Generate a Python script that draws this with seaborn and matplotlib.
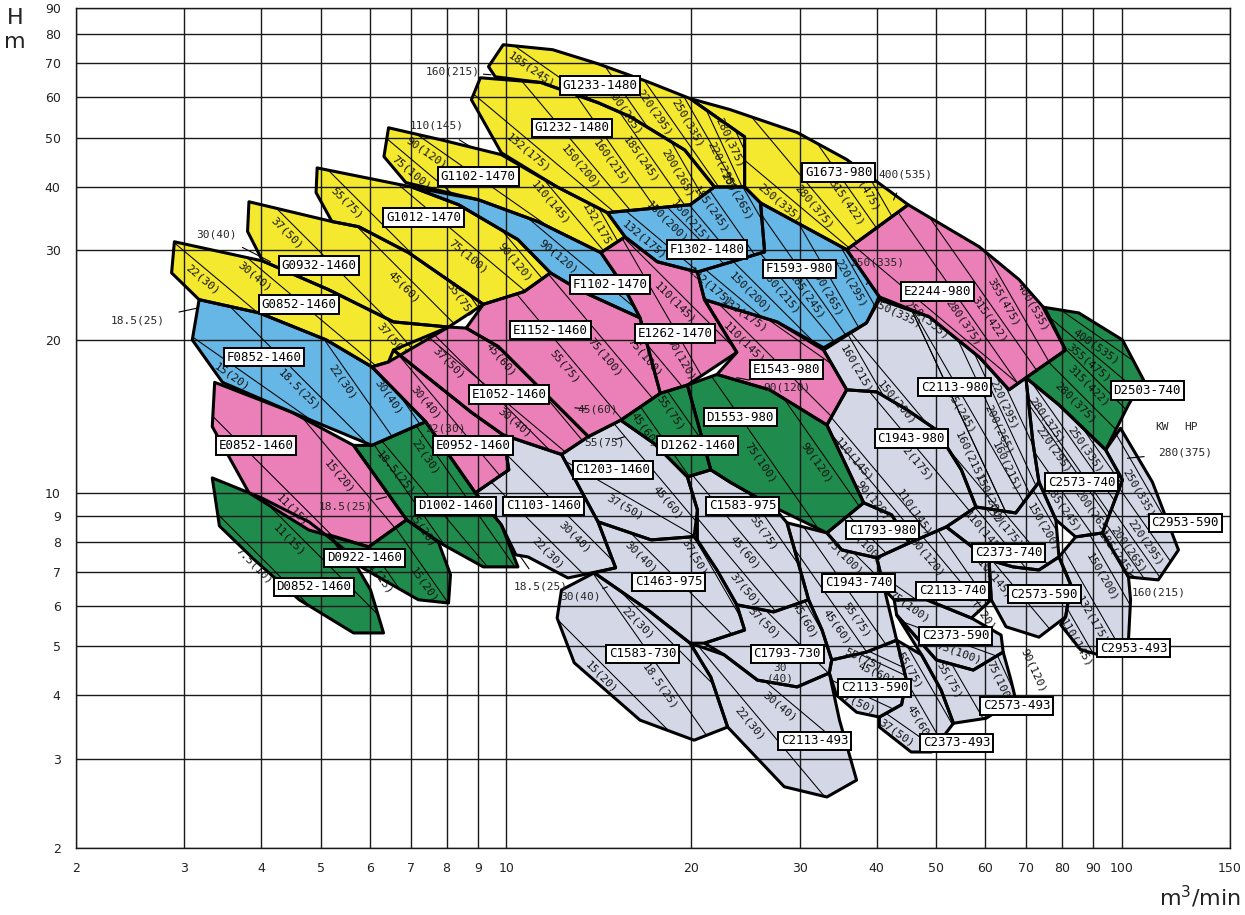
import matplotlib
matplotlib.use("Agg")
import numpy as np
import matplotlib.pyplot as plt
from matplotlib.patches import Polygon
import seaborn as sns

# ------------------------------------------------------------
# axis values
# ------------------------------------------------------------
Q_TICKS = [2, 3, 4, 5, 6, 7, 8, 9, 10, 20, 30, 40, 50, 60, 70, 80, 90, 100, 150]
H_TICKS = [2, 3, 4, 5, 6, 7, 8, 9, 10, 20, 30, 40, 50, 60, 70, 80, 90]

# ------------------------------------------------------------
# pump operating ranges, outline points as (Q m3/min, H m)
# ------------------------------------------------------------
# G series (yellow)
G0852_1460 = [(2.89, 31.2), (4.02, 28.6), (5.15, 25.1), (6.56, 21.7), (8.06, 21.2), (6.44, 18.1),
              (6.05, 17.7), (5.10, 20.0), (3.97, 22.6), (3.17, 24.0), (2.86, 27.1)]
G0932_1460 = [(3.82, 37.4), (5.21, 34.2), (5.76, 33.4), (6.94, 29.7), (9.18, 23.5), (8.06, 21.2),
              (6.56, 21.7), (5.15, 25.1), (4.02, 28.6), (3.80, 32.7)]
G1012_1470 = [(4.93, 43.6), (7.02, 40.0), (8.37, 36.9), (10.45, 31.5), (11.8, 27.1), (10.7, 24.9),
              (9.18, 23.5), (6.94, 29.7), (5.76, 33.4), (5.21, 34.2), (4.91, 39.0)]
G1102_1470 = [(6.44, 52.3), (7.85, 49.5), (9.82, 46.3), (12.1, 40.0), (14.6, 35.6), (15.6, 31.9),
              (14.25, 29.7), (11.25, 34.2), (9.01, 37.75), (6.87, 40.8), (6.33, 45.9)]
G1232_1480 = [(9.08, 65.6), (11.4, 64.2), (14.1, 58.6), (15.9, 55.0), (19.5, 47.3), (21.8, 40.0),
              (19.9, 36.9), (14.6, 35.6), (12.1, 40.0), (9.82, 46.7), (8.78, 59.4)]
G1233_1480 = [(9.89, 76.2), (11.9, 74.5), (14.1, 69.9), (17.0, 64.4), (19.9, 59.7), (24.4, 50.2),
              (24.4, 40.0), (21.8, 40.0), (19.5, 47.3), (15.9, 55.0), (14.1, 58.6), (11.4, 64.2),
              (9.60, 65.9), (9.36, 69.0)]
G1673_980 = [(19.9, 59.7), (23.1, 56.8), (29.7, 51.2), (35.75, 45.3), (45.0, 36.9), (35.75, 30.1),
             (25.9, 37.2), (24.4, 40.0), (24.4, 50.2)]

# F series (blue)
F0852_1460 = [(3.17, 24.0), (3.97, 22.6), (5.10, 20.0), (6.05, 17.7), (7.40, 13.8), (6.05, 12.4),
              (4.49, 14.4), (3.46, 16.5), (3.09, 20.0)]
F1102_1470 = [(7.02, 40.0), (9.01, 37.75), (11.25, 34.2), (14.25, 29.7), (15.46, 25.7), (16.5, 22.1),
              (13.2, 25.0), (11.8, 27.1), (10.45, 31.5), (8.37, 36.9)]
F1302_1480 = [(14.6, 35.6), (19.9, 36.9), (21.8, 40.0), (24.4, 40.0), (25.9, 37.2), (26.3, 29.8),
              (20.45, 27.2), (17.6, 28.5), (15.6, 31.9)]
F1593_980 = [(25.9, 37.2), (35.75, 30.1), (40.4, 24.3), (38.5, 21.6), (32.8, 19.3), (27.55, 21.7),
             (21.0, 24.0), (20.45, 27.2), (26.3, 29.8)]

# E series (pink)
E0852_1460 = [(3.36, 16.5), (4.49, 14.4), (5.65, 12.4), (6.89, 8.85), (5.98, 7.83), (4.78, 8.45),
              (3.82, 10.0), (3.33, 13.5)]
E0952_1460 = [(6.05, 17.7), (6.44, 18.1), (6.56, 19.1), (8.78, 14.4), (9.89, 13.0), (10.1, 11.1),
              (8.91, 10.0), (7.40, 13.8)]
E1052_1460 = [(6.56, 19.1), (8.06, 21.2), (8.61, 21.1), (9.71, 19.4), (13.6, 12.9), (12.3, 11.9),
              (9.89, 13.0), (8.78, 14.4)]
E1152_1460 = [(9.18, 23.5), (10.7, 24.9), (11.8, 27.1), (13.2, 25.0), (16.5, 22.1), (17.8, 15.7),
              (15.35, 13.9), (13.6, 12.9), (9.71, 19.4), (8.61, 21.1)]
E1262_1470 = [(14.25, 29.7), (15.6, 31.9), (17.6, 28.5), (20.45, 27.2), (21.0, 24.0), (23.7, 18.9),
              (19.7, 16.3), (17.8, 15.7), (16.5, 22.1), (15.46, 25.7)]
E1543_980 = [(21.0, 24.0), (27.55, 21.7), (32.8, 19.1), (35.75, 15.95), (33.2, 13.6), (26.8, 15.95),
             (22.0, 17.1), (23.7, 18.9)]
E2244_980 = [(35.75, 30.1), (45.0, 36.9), (58.7, 30.5), (68.1, 26.3), (75.3, 22.9), (81.1, 19.1),
             (65.6, 15.95), (58.7, 18.5), (48.7, 22.2), (40.4, 24.3)]

# D series (green)
D0852_1460 = [(3.33, 10.7), (4.0, 9.78), (4.78, 8.77), (5.55, 7.62), (6.02, 6.44), (6.32, 5.30),
              (5.65, 5.30), (4.61, 6.16), (3.90, 7.38), (3.42, 8.61)]
D0922_1460 = [(5.15, 8.27), (5.98, 7.83), (6.89, 8.85), (7.76, 8.0), (8.12, 6.9), (8.06, 6.07),
              (7.20, 6.16), (6.32, 6.74), (5.55, 7.38)]
D1002_1460 = [(5.65, 12.4), (6.05, 12.4), (7.40, 13.8), (8.91, 10.0), (9.82, 8.65), (10.45, 7.15),
              (9.18, 7.15), (7.91, 7.9), (6.89, 8.85)]
D1262_1460 = [(15.35, 13.9), (17.8, 15.7), (19.7, 16.3), (21.5, 11.1), (19.7, 10.75), (17.4, 12.5)]
D1553_980 = [(19.7, 16.3), (22.0, 17.1), (26.8, 15.95), (33.2, 13.6), (38.1, 9.56), (33.2, 8.34),
             (27.2, 9.38), (23.1, 10.5), (21.5, 11.1)]
D2503_740 = [(74.5, 23.2), (85.2, 22.6), (100.3, 20.0), (108.5, 16.7), (102.6, 14.9), (94.2, 12.15),
             (79.1, 14.9), (69.9, 16.85), (81.1, 19.1)]

# C series (grey)
C1103_1460 = [(9.89, 13.0), (12.3, 11.9), (14.1, 8.77), (15.06, 7.12), (12.6, 6.80), (10.85, 7.48),
              (10.37, 7.55), (9.82, 8.65), (8.91, 10.0), (10.1, 11.1)]
C1203_1460 = [(12.3, 11.9), (13.6, 12.9), (15.35, 13.9), (17.4, 12.5), (19.7, 10.75), (20.45, 9.26),
              (20.2, 8.2), (17.2, 8.08), (14.1, 8.77)]
C1463_975 = [(14.1, 8.77), (17.2, 8.08), (20.2, 8.2), (22.0, 7.05), (23.7, 6.02), (24.4, 5.37),
             (21.0, 5.06), (19.9, 5.06), (17.0, 5.88), (13.9, 6.96), (15.06, 7.12)]
C1583_975 = [(19.7, 10.75), (21.5, 11.1), (23.1, 10.5), (27.2, 9.38), (28.6, 8.73), (31.0, 6.16),
             (27.2, 5.83), (23.7, 6.02), (22.0, 7.05), (20.45, 8.08), (20.45, 9.26)]
C1583_730 = [(12.3, 6.44), (13.9, 6.96), (17.0, 5.88), (19.9, 5.06), (21.5, 4.34), (22.9, 3.46),
             (20.2, 3.26), (16.5, 3.57), (12.9, 4.63), (12.1, 5.67)]
C1793_730 = [(21.0, 5.06), (24.4, 5.37), (23.7, 6.02), (27.2, 5.83), (31.0, 6.16), (32.6, 5.37),
             (33.8, 4.69), (33.5, 4.42), (29.7, 4.15), (25.6, 4.28), (22.6, 4.80)]
C2113_493 = [(19.9, 5.06), (22.6, 4.80), (25.6, 4.28), (29.7, 4.15), (33.5, 4.42), (34.8, 3.57),
             (37.1, 2.72), (33.2, 2.52), (28.3, 2.64), (22.9, 3.46), (21.5, 4.34)]
C1793_980 = [(33.2, 8.34), (38.1, 9.56), (42.3, 9.05), (45.2, 7.97), (40.0, 7.45), (35.1, 7.72)]
C1943_740 = [(28.6, 8.73), (33.2, 8.34), (35.1, 7.72), (40.0, 7.45), (41.2, 6.44), (43.1, 5.13),
             (38.5, 4.86), (33.8, 4.69), (32.6, 5.37), (31.0, 6.16)]
C2113_590 = [(33.8, 4.69), (38.5, 4.86), (43.1, 5.13), (44.7, 4.28), (43.9, 3.83), (40.4, 3.62),
             (37.1, 3.70), (34.4, 4.0), (33.5, 4.42)]
C2373_493 = [(43.1, 5.13), (47.3, 4.80), (50.9, 4.09), (53.3, 3.52), (49.1, 3.09), (45.5, 3.09),
             (40.4, 3.46), (40.4, 3.62), (43.9, 3.83), (44.7, 4.28)]
C2573_493 = [(43.1, 5.75), (50.0, 4.69), (57.4, 4.48), (64.2, 4.86), (66.1, 4.28), (67.3, 3.91),
             (60.2, 3.60), (53.3, 3.52), (50.9, 4.09), (47.3, 4.80)]
C2373_590 = [(42.7, 6.16), (48.2, 6.16), (57.0, 5.67), (63.7, 5.25), (64.2, 4.86), (57.4, 4.48),
             (50.0, 4.69), (43.1, 5.75)]
C2113_740 = [(40.0, 7.45), (45.2, 7.97), (51.9, 8.57), (60.9, 7.38), (61.4, 6.16), (57.0, 5.67),
             (48.2, 6.16), (42.7, 6.16), (41.2, 6.44)]
C1943_980 = [(35.75, 15.95), (40.0, 15.8), (44.7, 14.6), (50.0, 13.3), (54.9, 11.1), (58.0, 9.38),
             (51.9, 8.57), (45.2, 7.97), (42.3, 9.05), (38.1, 9.56), (33.2, 13.6)]
C2113_980 = [(32.8, 19.1), (38.5, 21.6), (40.4, 24.0), (48.7, 22.2), (58.7, 18.5), (65.6, 15.95),
             (69.9, 16.85), (71.8, 12.5), (73.4, 10.5), (67.3, 9.13), (58.0, 9.38), (54.9, 11.1),
             (50.0, 13.3), (44.7, 14.6), (40.0, 15.8), (35.75, 15.95)]
C2373_740 = [(51.9, 8.57), (58.0, 9.38), (67.3, 9.13), (73.4, 10.5), (78.2, 8.85), (79.1, 7.48),
             (73.4, 7.05), (66.6, 7.15), (60.9, 7.38)]
C2573_740 = [(69.9, 16.85), (79.1, 14.9), (94.2, 12.15), (100.3, 10.6), (93.1, 8.34), (84.2, 8.19),
             (78.2, 8.85), (73.4, 10.5), (71.8, 12.5)]
C2573_590 = [(60.9, 7.38), (66.6, 7.15), (73.4, 7.05), (79.1, 7.48), (82.7, 6.59), (81.1, 5.70),
             (73.4, 5.20), (64.9, 5.45), (61.4, 6.16)]
C2953_590 = [(94.2, 12.15), (99.6, 13.4), (112.2, 10.5), (123.7, 7.72), (114.7, 6.74), (102.6, 6.83),
             (93.1, 8.34), (100.3, 10.6)]
C2953_493 = [(79.1, 7.48), (84.2, 8.19), (93.1, 8.34), (102.6, 6.83), (103.4, 6.16), (102.6, 5.13),
             (94.2, 4.76), (85.8, 4.91), (79.6, 5.50), (81.1, 5.70), (82.7, 6.59)]

# table of models built from the arrays above
OUTLINES = {
    "C1103-1460": C1103_1460, "C1203-1460": C1203_1460, "C1463-975": C1463_975,
    "C1583-975": C1583_975, "C1583-730": C1583_730, "C1793-730": C1793_730,
    "C2113-493": C2113_493, "C1793-980": C1793_980, "C1943-740": C1943_740,
    "C2113-590": C2113_590, "C2373-493": C2373_493, "C2573-493": C2573_493,
    "C2373-590": C2373_590, "C2113-740": C2113_740, "C1943-980": C1943_980,
    "C2113-980": C2113_980, "C2373-740": C2373_740, "C2573-740": C2573_740,
    "C2573-590": C2573_590, "C2953-590": C2953_590, "C2953-493": C2953_493,
    "D0852-1460": D0852_1460, "D0922-1460": D0922_1460, "D1002-1460": D1002_1460,
    "D1262-1460": D1262_1460, "D1553-980": D1553_980, "D2503-740": D2503_740,
    "E0852-1460": E0852_1460, "E0952-1460": E0952_1460, "E1052-1460": E1052_1460,
    "E1152-1460": E1152_1460, "E1262-1470": E1262_1470, "E1543-980": E1543_980,
    "E2244-980": E2244_980,
    "F0852-1460": F0852_1460, "F1102-1470": F1102_1470, "F1302-1480": F1302_1480,
    "F1593-980": F1593_980,
    "G0852-1460": G0852_1460, "G0932-1460": G0932_1460, "G1012-1470": G1012_1470,
    "G1102-1470": G1102_1470, "G1232-1480": G1232_1480, "G1233-1480": G1233_1480,
    "G1673-980": G1673_980,
}

# where each model name box sits (Q, H)
LABEL_POS = {
    "G1233-1480": (14.2, 63.3), "G1232-1480": (12.8, 52.3), "G1102-1470": (9.01, 41.9),
    "G1012-1470": (7.34, 34.8), "G0932-1460": (4.96, 28.0), "G0852-1460": (4.61, 23.5),
    "G1673-980": (34.7, 42.7),
    "F0852-1460": (4.04, 18.5), "F1102-1470": (14.75, 25.7), "F1302-1480": (21.2, 30.1),
    "F1593-980": (30.0, 27.6),
    "E0852-1460": (3.92, 12.4), "E0952-1460": (8.84, 12.4), "E1052-1460": (10.1, 15.6),
    "E1152-1460": (11.8, 20.9), "E1262-1470": (18.8, 20.6), "E1543-980": (28.5, 17.5),
    "E2244-980": (50.3, 24.9),
    "D0852-1460": (4.87, 6.53), "D0922-1460": (5.89, 7.45), "D1002-1460": (8.27, 9.43),
    "D1262-1460": (20.45, 12.4), "D1553-980": (24.0, 14.1), "D2503-740": (110.0, 15.9),
    "C1103-1460": (11.5, 9.43), "C1203-1460": (14.9, 11.1), "C1463-975": (18.35, 6.68),
    "C1583-975": (24.2, 9.43), "C1583-730": (16.65, 4.82), "C1793-980": (40.9, 8.45),
    "C1793-730": (28.6, 4.82), "C1943-980": (45.5, 12.8), "C1943-740": (37.4, 6.65),
    "C2113-980": (53.5, 16.15), "C2113-740": (53.1, 6.41), "C2113-590": (39.7, 4.13),
    "C2113-493": (31.7, 3.25), "C2373-740": (65.6, 7.62), "C2373-590": (53.7, 5.23),
    "C2373-493": (53.9, 3.22), "C2573-740": (86.2, 10.5), "C2573-590": (74.8, 6.32),
    "C2573-493": (67.6, 3.81), "C2953-590": (126.8, 8.73), "C2953-493": (104.5, 4.95),
}

# motor power lines kW(HP): model, power, label at (Q, H), label angle
G_POWER = [
    ("G0852-1460", "22(30)", 3.21, 26.3, -40), ("G0852-1460", "30(40)", 3.90, 26.6, -40),
    ("G0852-1460", "37(50)", 6.51, 20.0, -50),
    ("G0932-1460", "37(50)", 4.40, 32.5, -45), ("G0932-1460", "45(60)", 6.81, 25.4, -45),
    ("G0932-1460", "55(75)", 8.43, 24.0, -55),
    ("G1012-1470", "55(75)", 5.51, 37.2, -45), ("G1012-1470", "75(100)", 8.68, 29.2, -40),
    ("G1012-1470", "90(120)", 10.34, 28.5, -50),
    ("G1102-1470", "75(100)", 7.02, 42.7, -40), ("G1102-1470", "90(120)", 7.40, 46.7, -35),
    ("G1102-1470", "110(145)", 11.8, 37.2, -50), ("G1102-1470", "132(175)", 14.09, 33.4, -60),
    ("G1232-1480", "132(175)", 10.85, 46.7, -40), ("G1232-1480", "150(200)", 13.22, 43.8, -50),
    ("G1232-1480", "160(215)", 14.8, 44.7, -55), ("G1232-1480", "185(245)", 16.53, 45.3, -55),
    ("G1232-1480", "200(265)", 18.98, 42.66, -60),
    ("G1233-1480", "185(245)", 10.98, 68.0, -35), ("G1233-1480", "200(265)", 15.58, 56.2, -55),
    ("G1233-1480", "220(295)", 17.42, 56.0, -55), ("G1233-1480", "250(335)", 19.7, 53.5, -60),
    ("G1233-1480", "280(375)", 23.1, 48.9, -65), ("G1233-1480", "220(295)", 22.4, 43.8, -65),
    ("G1673-980", "250(335)", 27.86, 37.2, -40), ("G1673-980", "280(375)", 31.6, 36.6, -50),
    ("G1673-980", "315(422)", 35.75, 37.2, -55), ("G1673-980", "355(475)", 38.1, 39.9, -60),
]
F_POWER = [
    ("F0852-1460", "15(20)", 3.59, 16.9, -35), ("F0852-1460", "18.5(25)", 4.61, 15.95, -45),
    ("F0852-1460", "22(30)", 5.41, 16.5, -55), ("F0852-1460", "30(40)", 6.44, 15.45, -55),
    ("F1102-1470", "90(120)", 12.14, 29.2, -40),
    ("F1302-1480", "132(175)", 16.78, 31.5, -40), ("F1302-1480", "150(200)", 18.28, 34.2, -45),
    ("F1302-1480", "160(215)", 19.9, 34.2, -50), ("F1302-1480", "185(245)", 21.5, 36.1, -55),
    ("F1302-1480", "200(265)", 23.7, 38.3, -60),
    ("F1593-980", "132(175)", 21.5, 25.4, -40), ("F1593-980", "150(200)", 24.9, 24.8, -45),
    ("F1593-980", "160(215)", 27.86, 24.8, -50), ("F1593-980", "185(245)", 30.8, 24.3, -55),
    ("F1593-980", "200(265)", 33.2, 24.8, -60), ("F1593-980", "220(295)", 36.2, 25.9, -60),
]
E_POWER = [
    ("E0852-1460", "11(15)", 4.49, 9.26, -45), ("E0852-1460", "15(20)", 5.35, 10.75, -50),
    ("E0952-1460", "30(40)", 7.40, 15.04, -50),
    ("E1052-1460", "37(50)", 8.06, 18.0, -45), ("E1052-1460", "45(60)", 9.82, 18.3, -50),
    ("E1052-1460", "30(40)", 10.34, 13.73, -40),
    ("E1152-1460", "55(75)", 12.45, 17.7, -50), ("E1152-1460", "75(100)", 14.47, 18.5, -50),
    ("E1262-1470", "110(145)", 18.77, 23.7, -45), ("E1262-1470", "75(100)", 16.78, 18.5, -50),
    ("E1262-1470", "90(120)", 19.2, 18.3, -60),
    ("E1543-980", "132(175)", 24.35, 22.4, -35), ("E1543-980", "110(145)", 24.35, 19.7, -45),
    ("E2244-980", "250(335)", 48.2, 21.9, -40), ("E2244-980", "280(375)", 55.3, 21.6, -55),
    ("E2244-980", "315(422)", 60.9, 21.9, -55), ("E2244-980", "355(475)", 64.2, 23.7, -60),
    ("E2244-980", "400(535)", 71.8, 23.2, -60),
]
D_POWER = [
    ("D0852-1460", "7.5(10)", 3.90, 7.21, -45), ("D0852-1460", "11(15)", 4.44, 8.08, -45),
    ("D0922-1460", "11(15)", 6.21, 6.83, -55), ("D0922-1460", "15(20)", 7.34, 6.58, -55),
    ("D1002-1460", "15(20)", 7.29, 8.45, -55), ("D1002-1460", "18.5(25)", 6.61, 10.95, -50),
    ("D1002-1460", "22(30)", 7.40, 11.77, -55),
    ("D1262-1460", "45(60)", 16.78, 13.3, -55), ("D1262-1460", "55(75)", 18.49, 14.36, -55),
    ("D1553-980", "75(100)", 25.85, 11.45, -55), ("D1553-980", "90(120)", 31.96, 11.45, -55),
    ("D2503-740", "400(535)", 90.74, 19.4, -35), ("D2503-740", "355(475)", 88.4, 18.0, -40),
    ("D2503-740", "315(422)", 88.4, 16.2, -45), ("D2503-740", "280(375)", 84.2, 15.0, -45),
]
C_POWER = [
    ("C1103-1460", "22(30)", 11.69, 7.62, -45), ("C1103-1460", "30(40)", 12.93, 8.19, -45),
    ("C1203-1460", "37(50)", 15.58, 9.38, -30), ("C1203-1460", "45(60)", 18.28, 9.56, -50),
    ("C1463-975", "30(40)", 16.53, 7.48, -45), ("C1463-975", "37(50)", 20.2, 7.48, -60),
    ("C1583-975", "55(75)", 26.24, 8.35, -55), ("C1583-975", "45(60)", 24.4, 7.62, -50),
    ("C1583-975", "37(50)", 24.4, 6.44, -50),
    ("C1583-730", "22(30)", 16.35, 5.55, -45), ("C1583-730", "18.5(25)", 17.8, 4.15, -55),
    ("C1583-730", "15(20)", 14.25, 4.34, -45),
    ("C1793-730", "37(50)", 26.24, 5.55, -45), ("C1793-730", "45(60)", 30.47, 5.62, -60),
    ("C2113-493", "30(40)", 27.86, 3.79, -40), ("C2113-493", "22(30)", 24.9, 3.52, -50),
    ("C1943-740", "75(100)", 35.35, 7.48, -45), ("C1943-740", "45(60)", 34.45, 5.45, -55),
    ("C1943-740", "55(75)", 37.1, 5.62, -55),
    ("C1793-980", "75(100)", 38.1, 7.9, -45),
    ("C1943-980", "90(120)", 39.5, 9.69, -50), ("C1943-980", "110(145)", 36.7, 11.62, -50),
    ("C1943-980", "132(175)", 45.9, 11.62, -50),
    ("C2113-740", "110(145)", 45.9, 9.13, -55), ("C2113-740", "90(120)", 48.2, 7.48, -50),
    ("C2113-740", "75(100)", 45.2, 5.96, -35),
    ("C2373-590", "90(120)", 58.7, 5.88, -55), ("C2373-590", "75(100)", 54.4, 4.84, -20),
    ("C2113-980", "250(335)", 43.07, 22.6, -25), ("C2113-980", "160(215)", 37.1, 17.5, -60),
    ("C2113-980", "150(200)", 43.07, 15.04, -50), ("C2113-980", "185(245)", 54.4, 14.56, -60),
    ("C2113-980", "220(295)", 64.2, 14.9, -65), ("C2113-980", "200(265)", 63.2, 13.3, -65),
    ("C2113-980", "160(215)", 56.5, 11.77, -65), ("C2113-980", "160(215)", 64.9, 11.25, -65),
    ("C2113-980", "150(200)", 60.9, 9.69, -65),
    ("C2573-740", "280(375)", 75.32, 13.9, -55), ("C2573-740", "220(295)", 77.3, 12.15, -55),
    ("C2573-740", "250(335)", 87.4, 12.15, -55), ("C2573-740", "185(245)", 80.2, 9.26, -55),
    ("C2573-740", "200(265)", 89.7, 9.13, -55),
    ("C2953-590", "250(335)", 106.5, 10.0, -60), ("C2953-590", "220(295)", 109.3, 7.97, -55),
    ("C2953-590", "200(265)", 102.6, 7.72, -55), ("C2953-590", "185(245)", 97.7, 7.55, -55),
    ("C2953-493", "150(200)", 93.1, 6.83, -60), ("C2953-493", "132(175)", 89.7, 5.62, -60),
    ("C2953-493", "110(145)", 84.2, 5.06, -60),
    ("C2373-740", "110(145)", 59.6, 8.34, -50), ("C2373-740", "132(175)", 64.2, 8.57, -50),
    ("C2373-740", "150(200)", 74.5, 8.57, -60),
    ("C2573-590", "110(145)", 61.8, 6.83, -50),
    ("C2113-590", "55(75)", 38.1, 4.69, -25), ("C2113-590", "45(60)", 40.0, 4.42, -25),
    ("C2113-590", "37(50)", 37.1, 3.86, -25),
    ("C2373-493", "55(75)", 45.2, 4.48, -60), ("C2373-493", "45(60)", 46.9, 3.52, -60),
    ("C2373-493", "37(50)", 43.07, 3.37, -35),
    ("C2573-493", "55(75)", 52.5, 4.28, -60), ("C2573-493", "75(100)", 63.2, 4.23, -65),
    ("C2573-493", "90(120)", 71.8, 4.48, -65),
]

# power notes with a leader: text, text at (Q, H), leader end (Q, H)
NOTE_TEXT = ["160(215)", "110(145)", "30(40)", "18.5(25)", "400(535)", "280(375)",
             "160(215)", "18.5(25)", "250(335)", "22(30)", "18.5(25)", "90(120)", "45(60)",
             "55(75)", "30(40)"]
NOTE_AT = [(8.2, 67.4), (7.7, 52.8), (3.38, 32.3), (2.52, 21.8), (44.5, 42.3), (127.0, 12.0),
           (115.0, 6.38), (11.4, 6.55), (40.0, 28.4), (7.97, 13.4), (5.49, 9.38), (28.6, 16.15),
           (14.09, 14.56), (14.47, 12.54), (13.22, 6.24)]
NOTE_TO = [(9.45, 66.5), (8.8, 47.8), (4.14, 28.5), (3.15, 23.1), (42.6, 37.7), (102.2, 11.7),
           (101.9, 6.99), (10.5, 7.55), (38.5, 25.7), (7.29, 12.9), (6.39, 9.82), (23.7, 16.85),
           (12.93, 14.7), (15.58, 12.9), (14.6, 6.53)]

COLOURS = {"C": "#d3d7e6", "D": "#1f8b4c", "E": "#eb7fb8", "F": "#66b7e6", "G": "#f4e92e"}
MONO = "DejaVu Sans Mono"

# ------------------------------------------------------------
# figure
# ------------------------------------------------------------
sns.set_theme(style="white")
plt.rcParams["font.family"] = ["DejaVu Sans"]

fig = plt.figure(figsize=(12.45, 9.15), dpi=100)
ax = fig.add_axes([76 / 1245, 67 / 915, 1154 / 1245, 840 / 915])
ax.set_xscale("log")
ax.set_yscale("log")
ax.set_xlim(2, 150)
ax.set_ylim(2, 90)

# filled ranges with thick outlines
clip = {}
for family in "CDEFG":
    for name, pts in OUTLINES.items():
        if name[0] != family:
            continue
        q = [p[0] for p in pts]
        h = [p[1] for p in pts]
        ax.fill(q, h, facecolor=COLOURS[family], edgecolor="none", zorder=1)
        ax.fill(q, h, facecolor="none", edgecolor="black", lw=2.2, joinstyle="round", zorder=3)
        patch = Polygon(pts, closed=True, facecolor="none", edgecolor="none",
                        transform=ax.transData)
        ax.add_patch(patch)
        clip[name] = patch

# motor power lines, clipped to their range, with the label just below-left of each line
to_data = ax.transData.inverted()
for pump, text, q, h, ang in G_POWER + F_POWER + E_POWER + D_POWER + C_POWER:
    x, y = ax.transData.transform((q, h))
    t = np.radians(ang)
    dx, dy = np.cos(t), np.sin(t)
    cx, cy = x - 10 * dy, y + 10 * dx
    p0 = to_data.transform((cx - 300 * dx, cy - 300 * dy))
    p1 = to_data.transform((cx + 300 * dx, cy + 300 * dy))
    line, = ax.plot([p0[0], p1[0]], [p0[1], p1[1]], color="black", lw=0.75, zorder=2.6)
    line.set_clip_path(clip[pump])
    ax.text(q, h, text, rotation=ang, rotation_mode="anchor", ha="center", va="center",
            fontsize=8, family=MONO, color="#111111", zorder=4)

for name, (q, h) in LABEL_POS.items():
    ax.text(q, h, name, ha="center", va="center", fontsize=9, family=MONO,
            color="black", zorder=6,
            bbox=dict(boxstyle="square,pad=0.22", fc="white", ec="black", lw=1.4))

for text, xy_text, xy in zip(NOTE_TEXT, NOTE_AT, NOTE_TO):
    ax.annotate(text, xy=xy, xytext=xy_text, ha="center", va="center", fontsize=8,
                family=MONO, zorder=6,
                arrowprops=dict(arrowstyle="-", lw=0.8, color="black", shrinkA=8, shrinkB=0))
ax.text(27.86, 4.42, "30\n(40)", ha="center", va="center", fontsize=8, family=MONO,
        linespacing=1.0, zorder=4)
ax.text(116.5, 13.5, "KW", ha="center", va="center", fontsize=8, family=MONO)
ax.text(129.5, 13.5, "HP", ha="center", va="center", fontsize=8, family=MONO)

# grid and ticks
ax.set_xticks(Q_TICKS)
ax.set_xticklabels([str(t) for t in Q_TICKS])
ax.set_yticks(H_TICKS)
ax.set_yticklabels([str(t) for t in H_TICKS])
ax.minorticks_off()
ax.set_axisbelow(False)
ax.grid(True, which="major", color="#1a1a1a", lw=1.0)
ax.tick_params(axis="both", direction="out", length=6, width=1.0, color="#1a1a1a",
               labelsize=9, labelcolor="#222222")
ax.tick_params(axis="x", pad=4)
ax.tick_params(axis="y", pad=5)
for side in ["left", "bottom", "top", "right"]:
    ax.spines[side].set_color("#1a1a1a")
    ax.spines[side].set_linewidth(1.0)

fig.text(15 / 1245, 1 - 18 / 915, "H", fontsize=16, ha="center", va="center", color="#222222")
fig.text(15 / 1245, 1 - 42 / 915, "m", fontsize=16, ha="center", va="center", color="#222222")
fig.text(1200 / 1245, 1 - 897 / 915, r"m$^3$/min", fontsize=16, ha="center", va="center",
         color="#222222")

fig.savefig("out.png", dpi=100)
